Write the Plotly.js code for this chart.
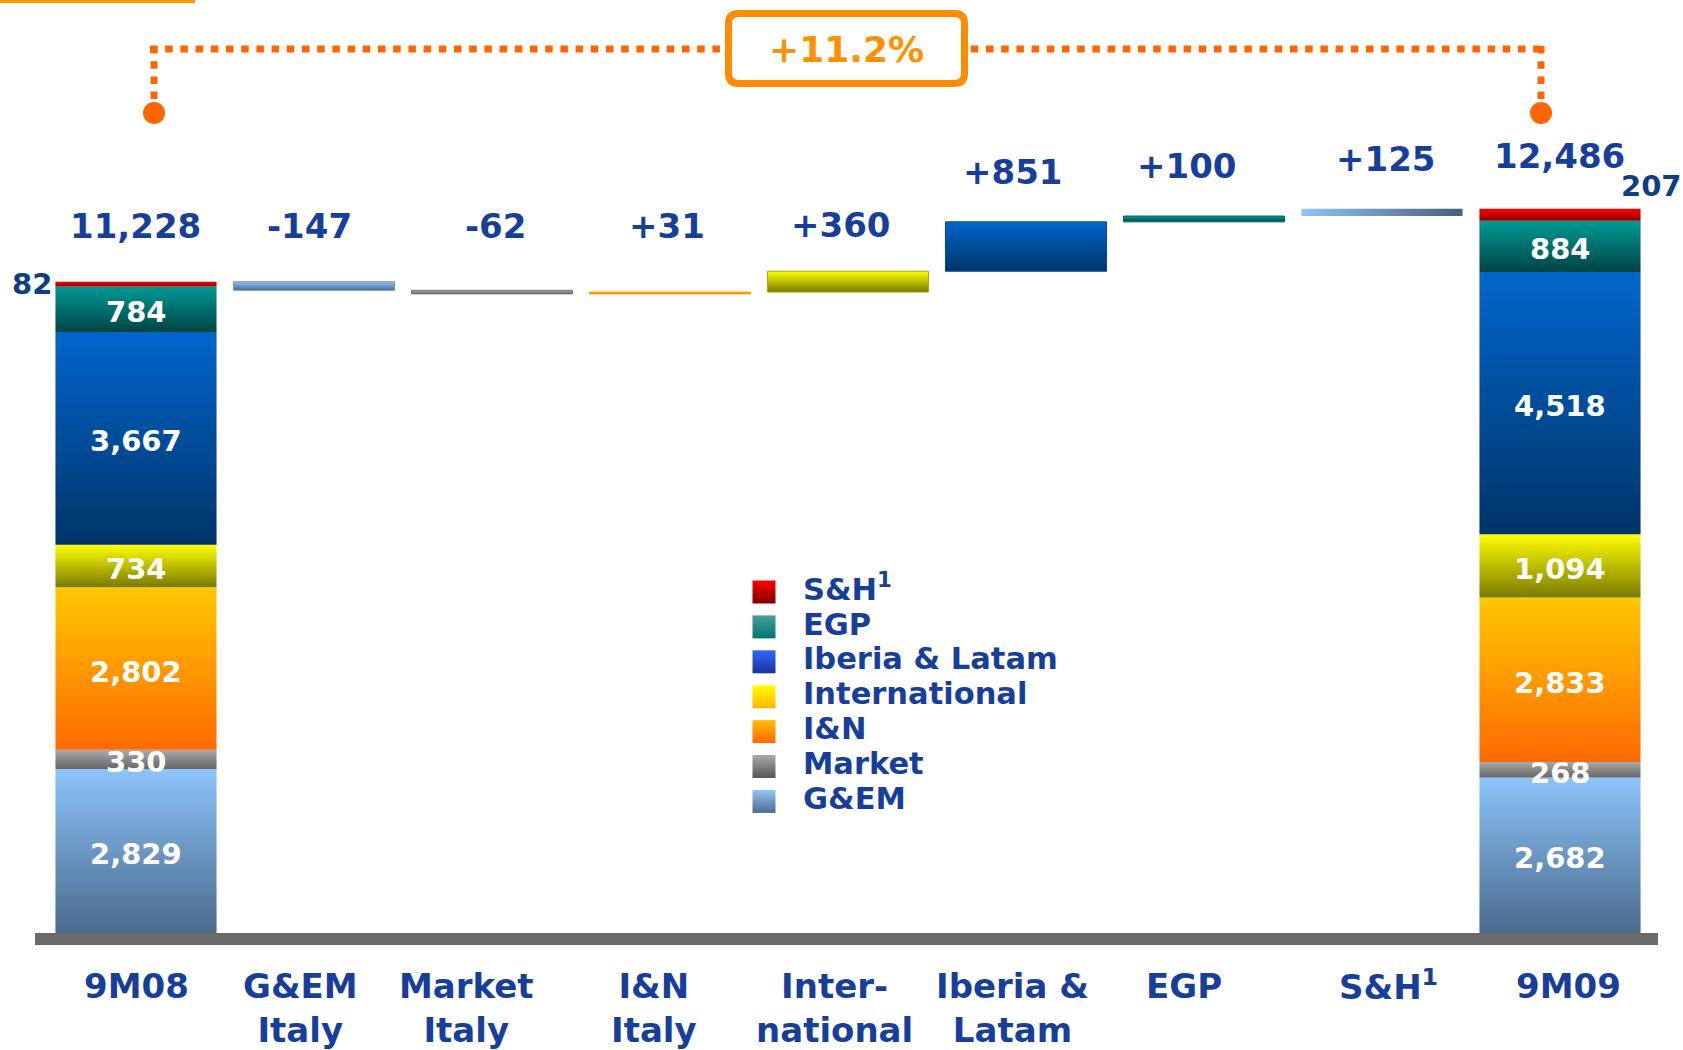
<!DOCTYPE html>
<html><head><meta charset="utf-8">
<script src="https://cdn.plot.ly/plotly-3.0.1.min.js"></script>
<style>html,body{margin:0;padding:0;background:#fff}#chart{width:1683px;height:1050px}</style>
</head><body><div id="chart"></div>
<script>
// ---------------- DATA ----------------
const categories = ['9M08', 'G&EM<br>Italy', 'Market<br>Italy', 'I&N<br>Italy', 'Inter-<br>national', 'Iberia &<br>Latam', 'EGP', 'S&H<sup>1</sup>', '9M09'];
const segments = ['G&EM', 'Market', 'I&N', 'International', 'Iberia & Latam', 'EGP', 'S&H<sup>1</sup>'];
const start9M08 = [2829, 330, 2802, 734, 3667, 784, 82];
const end9M09 = [2682, 268, 2833, 1094, 4518, 884, 207];
const deltas = [-147, -62, 31, 360, 851, 100, 125];

// ---------------- STYLE ----------------
const segTop = ['#8cc4fa', '#aaaaaa', '#ffc800', '#ffff00', '#0066cc', '#009a96', '#ff0000'];
const segBottom = ['#4a6a8c', '#666666', '#ff6a00', '#7a7a00', '#003468', '#004444', '#8a0000'];
const deltaLine = ['#6f95bf', '#777777', '#ff9900', '#a8a800', '#00488f', '#006a66', '#6a8cb0'];
const legTop = ['#94c8f8', '#aaaaaa', '#ffc000', '#ffff00', '#3366ff', '#4aa09a', '#ff0000'];
const legBottom = ['#4a6a8c', '#555555', '#ff6600', '#ffb400', '#1a3399', '#007570', '#800000'];
const deltaHorizontal = [false, false, false, false, false, false, true];
const deltaHorizColors = ['#8cc4fa', '#4a5f7a'];
const topLabelShift = [56, 56, 56, 56, 46, 50, 50, 50, 53];
const topLabelXShift = [-1, -5, 3, -3, -8, -14, -18, 3, -1];
const catLabelXShift = [0, -14, -26, -16, -14, -14, -20, 6, 8];
const catLabelYShift = [-31, -31, -31, -31, -31, -31, -31, -28, -31];
const NAVY = '#173e9b';
const FONT = 'DejaVu Sans, Verdana, sans-serif';

const W = 1683, H = 1050, L = 47, R = 34, T = 100, B = 117;
const plotW = W - L - R, plotH = H - T - B;
const Y_MAX = 14362;
const BW = 0.905;

const px2x = p => (p - L) / plotW;
const py2y = p => (T + plotH - p) / plotH;

const traces = [];
function rect(cx, y0, y1, top, bottom, horiz, lineColor) {
  const xl = cx - BW / 2, xr = cx + BW / 2;
  traces.push({
    type: 'scatter', mode: lineColor ? 'lines' : 'none', fill: 'toself', hoverinfo: 'skip', showlegend: false,
    x: [xl, xr, xr, xl, xl], y: [y0, y0, y1, y1, y0],
    line: {width: lineColor ? 1 : 0, color: lineColor || top},
    fillgradient: horiz
      ? {type: 'horizontal', colorscale: [[0, top], [1, bottom]]}
      : {type: 'vertical', colorscale: [[0, bottom], [1, top]]},
    fillcolor: top
  });
}

// stacks
function stack(cx, vals) {
  let cum = 0;
  const centers = [];
  vals.forEach((v, i) => {
    rect(cx, cum, cum + v, segTop[i], segBottom[i], false, null);
    centers.push(cum + v / 2);
    cum += v;
  });
  return {total: cum, centers};
}
const s08 = stack(0, start9M08);
const s09 = stack(8, end9M09);

// floating deltas
let running = s08.total;
const tops = [s08.total];
deltas.forEach((d, i) => {
  const a = running, b = running + d;
  if (deltaHorizontal[i]) rect(i + 1, Math.min(a, b), Math.max(a, b), deltaHorizColors[0], deltaHorizColors[1], true, null);
  else rect(i + 1, Math.min(a, b), Math.max(a, b), segTop[i], segBottom[i], false, deltaLine[i]);
  tops.push(Math.max(a, b));
  running = b;
});
tops.push(s09.total);

const annotations = [];

// in-segment labels (all but S&H)
[[0, start9M08, s08], [8, end9M09, s09]].forEach(([cx, vals, s]) => {
  vals.forEach((v, i) => {
    if (i === vals.length - 1) return;
    annotations.push({
      x: cx, y: s.centers[i], xref: 'x', yref: 'y', text: v.toLocaleString('en-US'), showarrow: false,
      yanchor: 'middle', yshift: -3, font: {family: FONT, size: 29, color: '#ffffff', weight: 'bold'}
    });
  });
});

// custom legend (overlay axes in pixel units)
const legIdx = segments.map((_, i) => segments.length - 1 - i);
const legY = legIdx.map((_, k) => 592 + k * 34.9);
legIdx.forEach((si, k) => {
  traces.push({
    type: 'scatter', mode: 'markers', xaxis: 'x2', yaxis: 'y2', hoverinfo: 'skip', showlegend: false,
    x: [764], y: [legY[k]],
    marker: {symbol: 'square', size: 23, color: legTop[si], gradient: {type: 'vertical', color: legBottom[si]}, line: {width: 0}}
  });
});
traces.push({
  type: 'scatter', mode: 'text', xaxis: 'x2', yaxis: 'y2', hoverinfo: 'skip', showlegend: false,
  x: legIdx.map(() => 803), y: legY, text: legIdx.map(si => segments[si]),
  textposition: 'middle right', textfont: {family: FONT, size: 30.5, color: NAVY, weight: 'bold'}
});

// top labels
const topLabels = [s08.total.toLocaleString('en-US')]
  .concat(deltas.map(d => (d > 0 ? '+' : '') + d))
  .concat([s09.total.toLocaleString('en-US')]);
topLabels.forEach((t, i) => {
  annotations.push({
    x: i, y: Math.max(tops[i], s08.total), xref: 'x', yref: 'y', text: t, showarrow: false,
    yshift: topLabelShift[i], xshift: topLabelXShift[i], yanchor: 'middle',
    font: {family: FONT, size: 34, color: NAVY, weight: 'bold'}
  });
});
// category labels
categories.forEach((c, i) => {
  annotations.push({
    x: i, y: 0, xref: 'x', yref: 'y', text: c, showarrow: false,
    yanchor: 'top', yshift: catLabelYShift[i], xshift: catLabelXShift[i], align: 'center',
    font: {family: FONT, size: 34, color: NAVY, weight: 'bold'}
  });
});
// S&H small labels outside
annotations.push({
  x: -BW / 2, y: s08.centers[6], xref: 'x', yref: 'y', text: String(start9M08[6]), showarrow: false,
  xanchor: 'right', xshift: -1, yanchor: 'middle', font: {family: FONT, size: 29, color: '#0d3f87', weight: 'bold'}
});
annotations.push({
  x: 8 + BW / 2, y: s09.total, xref: 'x', yref: 'y', text: String(end9M09[6]), showarrow: false,
  xanchor: 'center', xshift: 11, yshift: 23, yanchor: 'middle', font: {family: FONT, size: 29, color: '#0d3f87', weight: 'bold'}
});
// growth label
const growth = ((s09.total / s08.total - 1) * 100).toFixed(1);
annotations.push({
  x: px2x(846), y: py2y(50), xref: 'paper', yref: 'paper', text: '+' + growth + '%', showarrow: false,
  xanchor: 'center', yanchor: 'middle', font: {family: FONT, size: 36, color: '#ff9000', weight: 'bold'}
});

// decorative shapes
function rrect(x0, y0, x1, y1, r) {
  const X = px2x, Y = py2y;
  return 'M' + X(x0 + r) + ',' + Y(y0) + ' L' + X(x1 - r) + ',' + Y(y0) +
    ' Q' + X(x1) + ',' + Y(y0) + ' ' + X(x1) + ',' + Y(y0 + r) +
    ' L' + X(x1) + ',' + Y(y1 - r) + ' Q' + X(x1) + ',' + Y(y1) + ' ' + X(x1 - r) + ',' + Y(y1) +
    ' L' + X(x0 + r) + ',' + Y(y1) + ' Q' + X(x0) + ',' + Y(y1) + ' ' + X(x0) + ',' + Y(y1 - r) +
    ' L' + X(x0) + ',' + Y(y0 + r) + ' Q' + X(x0) + ',' + Y(y0) + ' ' + X(x0 + r) + ',' + Y(y0) + ' Z';
}
const dotLine = {color: '#ff6600', width: 7, dash: '7.5px,7.7px'};
const shapes = [
  {type: 'rect', xref: 'paper', yref: 'paper', x0: px2x(0), x1: px2x(195), y0: py2y(0), y1: py2y(3), fillcolor: '#ff9900', line: {width: 0}},
  {type: 'rect', xref: 'paper', yref: 'paper', x0: px2x(35), x1: px2x(1658), y0: py2y(933), y1: py2y(945), fillcolor: '#6a6a6a', line: {width: 0}},
  {type: 'line', xref: 'paper', yref: 'paper', x0: px2x(150), x1: px2x(1545), y0: py2y(49), y1: py2y(49), line: dotLine},
  {type: 'line', xref: 'paper', yref: 'paper', x0: px2x(154), x1: px2x(154), y0: py2y(46), y1: py2y(100), line: dotLine},
  {type: 'line', xref: 'paper', yref: 'paper', x0: px2x(1541), x1: px2x(1541), y0: py2y(46), y1: py2y(100), line: dotLine},
  {type: 'circle', xref: 'paper', yref: 'paper', x0: px2x(143), x1: px2x(165), y0: py2y(102), y1: py2y(124), fillcolor: '#ff6600', line: {width: 0}},
  {type: 'circle', xref: 'paper', yref: 'paper', x0: px2x(1530), x1: px2x(1552), y0: py2y(102), y1: py2y(124), fillcolor: '#ff6600', line: {width: 0}},
  {type: 'path', xref: 'paper', yref: 'paper', path: rrect(728.5, 13.5, 964.5, 83.5, 10), fillcolor: '#ffffff', line: {color: '#ff8c00', width: 7}}
];

const layout = {
  width: W, height: H, paper_bgcolor: '#ffffff', plot_bgcolor: '#ffffff',
  margin: {l: L, r: R, t: T, b: B, pad: 0},
  showlegend: false,
  xaxis: {
    range: [-0.5, 8.5], showticklabels: false,
    showgrid: false, zeroline: false, showline: false, ticks: '', fixedrange: true
  },
  yaxis: {range: [0, Y_MAX], visible: false, fixedrange: true},
  xaxis2: {range: [L, L + plotW], overlaying: 'x', anchor: 'y2', visible: false, fixedrange: true},
  yaxis2: {range: [T + plotH, T], overlaying: 'y', anchor: 'x2', visible: false, fixedrange: true},
  annotations, shapes
};

Plotly.newPlot('chart', traces, layout, {displayModeBar: false, staticPlot: true});
</script>
</body></html>
